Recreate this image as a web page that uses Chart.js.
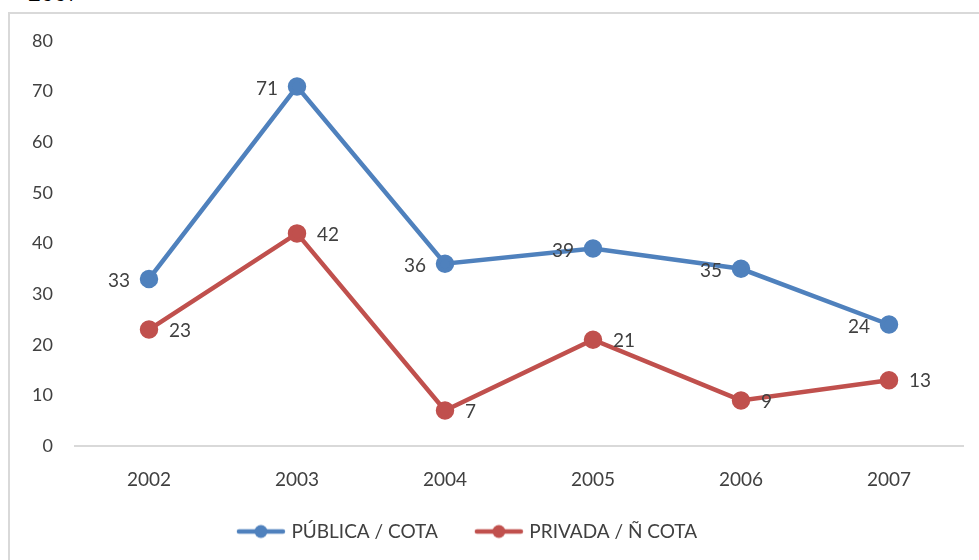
<!DOCTYPE html>
<html>
<head>
<meta charset="utf-8">
<script src="https://cdn.jsdelivr.net/npm/chart.js@4.4.1/dist/chart.umd.min.js"></script>
<style>
  html, body { margin: 0; padding: 0; background: #fff; overflow: hidden; }
  #wrap { position: relative; width: 979px; height: 560px; }
  #frame {
    position: absolute; left: 8px; top: 12px; width: 990px; height: 600px;
    border: 2px solid #d9d9d9; box-sizing: border-box;
  }
  #cut {
    position: absolute; left: 28px; top: -20px; line-height: 1;
    font-family: "Liberation Serif", serif; font-size: 26px; color: #000;
  }
  canvas { position: absolute; left: 0; top: 0; }
</style>
</head>
<body>
<div id="wrap">
  <div id="cut">2007</div>
  <div id="frame"></div>
  <canvas id="lineChart" width="979" height="560"></canvas>
</div>
<script>
const years = ["2002", "2003", "2004", "2005", "2006", "2007"];
const publica = [33, 71, 36, 39, 35, 24];
const privada = [23, 42, 7, 21, 9, 13];
const seriesNames = ["PÚBLICA / COTA", "PRIVADA / Ñ COTA"];
// which side the value label sits on, per series
const labelSide = ["left", "right"];

const blue = "#4f81bd";
const red = "#c0504d";
const textColor = "#404040";
const font = "Lato, 'Open Sans', sans-serif";

// legend box is wider than the icon so there is a gap before each item
const legendBoxW = 72;

// line-with-dot icon, placed at the right end of the legend box
function legendIcon(color) {
  const c = document.createElement("canvas");
  c.width = legendBoxW + 8;
  c.height = 16;
  const g = c.getContext("2d");
  const x0 = c.width - 50;
  g.strokeStyle = color;
  g.fillStyle = color;
  g.lineWidth = 4.5;
  g.lineCap = "round";
  g.beginPath();
  g.moveTo(x0 + 3, 8);
  g.lineTo(x0 + 47, 8);
  g.stroke();
  g.beginPath();
  g.arc(x0 + 25, 8, 6.5, 0, Math.PI * 2);
  g.fill();
  return c;
}

// value labels beside each point
const pointLabels = {
  id: "pointLabels",
  afterDatasetsDraw(chart) {
    const ctx = chart.ctx;
    ctx.save();
    ctx.font = "19px " + font;
    ctx.fillStyle = textColor;
    ctx.textBaseline = "middle";
    chart.data.datasets.forEach((ds, i) => {
      const meta = chart.getDatasetMeta(i);
      meta.data.forEach((pt, j) => {
        if (labelSide[i] === "left") {
          ctx.textAlign = "right";
          ctx.fillText(ds.data[j], pt.x - 19, pt.y + 2);
        } else {
          ctx.textAlign = "left";
          ctx.fillText(ds.data[j], pt.x + 20, pt.y + 1);
        }
      });
    });
    ctx.restore();
  },
};

// nudge the legend to the left, like the original
const legendShift = {
  id: "legendShift",
  afterLayout(chart) {
    chart.legend.left -= 28;
    chart.legend.right -= 28;
  },
};

const icons = [legendIcon(blue), legendIcon(red)];

const ctx = document.getElementById("lineChart").getContext("2d");
new Chart(ctx, {
  type: "line",
  data: {
    labels: years,
    datasets: [
      {
        label: seriesNames[0],
        data: publica,
        borderColor: blue,
        backgroundColor: blue,
        borderWidth: 4.5,
        pointRadius: 7,
        pointHoverRadius: 7,
        tension: 0,
      },
      {
        label: seriesNames[1],
        data: privada,
        borderColor: red,
        backgroundColor: red,
        borderWidth: 4.5,
        pointRadius: 7,
        pointHoverRadius: 7,
        tension: 0,
      },
    ],
  },
  options: {
    responsive: false,
    animation: false,
    layout: { padding: { top: 41, right: 16, bottom: 9, left: 0 } },
    plugins: {
      tooltip: { enabled: false },
      legend: {
        position: "bottom",
        labels: {
          font: { family: font, size: 19 },
          color: textColor,
          usePointStyle: true,
          pointStyleWidth: legendBoxW,
          padding: 10,
          generateLabels(chart) {
            return chart.data.datasets.map((ds, i) => ({
              text: ds.label,
              fillStyle: ds.borderColor,
              strokeStyle: ds.borderColor,
              pointStyle: icons[i],
              datasetIndex: i,
              fontColor: textColor,
            }));
          },
        },
      },
    },
    scales: {
      x: {
        offset: true,
        afterFit(scale) {
          scale.height = 66;
        },
        grid: { display: false, drawTicks: false },
        border: { display: true, color: "#d9d9d9", width: 2 },
        ticks: { font: { family: font, size: 19 }, color: textColor, padding: 22 },
      },
      y: {
        min: 0,
        max: 80,
        afterFit(scale) {
          scale.width = 75;
        },
        grid: { display: false, drawTicks: false },
        border: { display: false },
        ticks: {
          stepSize: 10,
          font: { family: font, size: 18 },
          color: textColor,
          padding: 22,
        },
      },
    },
  },
  plugins: [pointLabels, legendShift],
});
</script>
</body>
</html>
